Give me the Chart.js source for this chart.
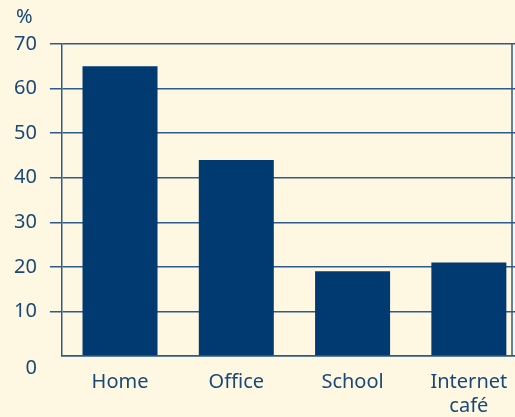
<!DOCTYPE html>
<html>
<head>
<meta charset="utf-8">
<script src="https://cdn.jsdelivr.net/npm/chart.js@4"></script>
<style>
  html, body { margin: 0; padding: 0; background: #fef8e2; overflow: hidden; }
  #wrap { width: 545px; height: 417px; }
</style>
</head>
<body>
<div id="wrap"><canvas id="accessChart"></canvas></div>
<script>
const categories = [['Home'], ['Office'], ['School'], ['Internet', 'café']];
const shares = [65, 44, 19, 21];
const yTicks = [0, 10, 20, 30, 40, 50, 60, 70];

const navy = '#003a70';
const lineCol = '#2f5b8c';
const textCol = '#1a4878';

// percent sign above the axis and the closing frame line on the right
const framePlugin = {
    id: 'frame',
    afterDraw(chart) {
        const ctx = chart.ctx;
        const area = chart.chartArea;
        ctx.save();
        ctx.strokeStyle = lineCol;
        ctx.lineWidth = 1.5;
        ctx.beginPath();
        ctx.moveTo(512, area.top);
        ctx.lineTo(512, area.bottom);
        ctx.stroke();
        ctx.fillStyle = textCol;
        ctx.font = '20px "Noto Sans"';
        ctx.textAlign = 'left';
        ctx.textBaseline = 'middle';
        ctx.fillText('%', 16, 17);
        ctx.restore();
    }
};

const ctx = document.getElementById('accessChart').getContext('2d');
const accessChart = new Chart(ctx, {
    type: 'bar',
    data: {
        labels: categories,
        datasets: [{
            data: shares,
            backgroundColor: navy,
            borderWidth: 0,
            barPercentage: 0.645,
            categoryPercentage: 1
        }]
    },
    options: {
        responsive: true,
        maintainAspectRatio: false,
        animation: false,
        layout: { padding: { left: 1, right: 18, top: 44, bottom: -15 } },
        plugins: {
            legend: { display: false },
            tooltip: { enabled: false }
        },
        scales: {
            x: {
                grid: { display: false, drawTicks: false },
                border: { display: true, color: lineCol, width: 1.5 },
                ticks: {
                    color: textCol,
                    font: { family: 'Noto Sans', size: 20 },
                    padding: 14,
                    maxRotation: 0,
                    autoSkip: false
                }
            },
            y: {
                min: 0,
                max: 70,
                afterBuildTicks(scale) {
                    scale.ticks = yTicks.map(v => ({ value: v }));
                },
                grid: {
                    color: lineCol,
                    lineWidth: 1.5,
                    tickLength: 12,
                    tickColor: c => (c.tick && c.tick.value === 0) ? 'rgba(0,0,0,0)' : lineCol
                },
                border: { display: true, color: lineCol, width: 1.5 },
                ticks: {
                    color: textCol,
                    font: { family: 'Noto Sans', size: 20 },
                    padding: 13,
                    autoSkip: false,
                    callback: v => v === 0 ? ['', '0'] : String(v)
                }
            }
        }
    },
    plugins: [framePlugin]
});
</script>
</body>
</html>
